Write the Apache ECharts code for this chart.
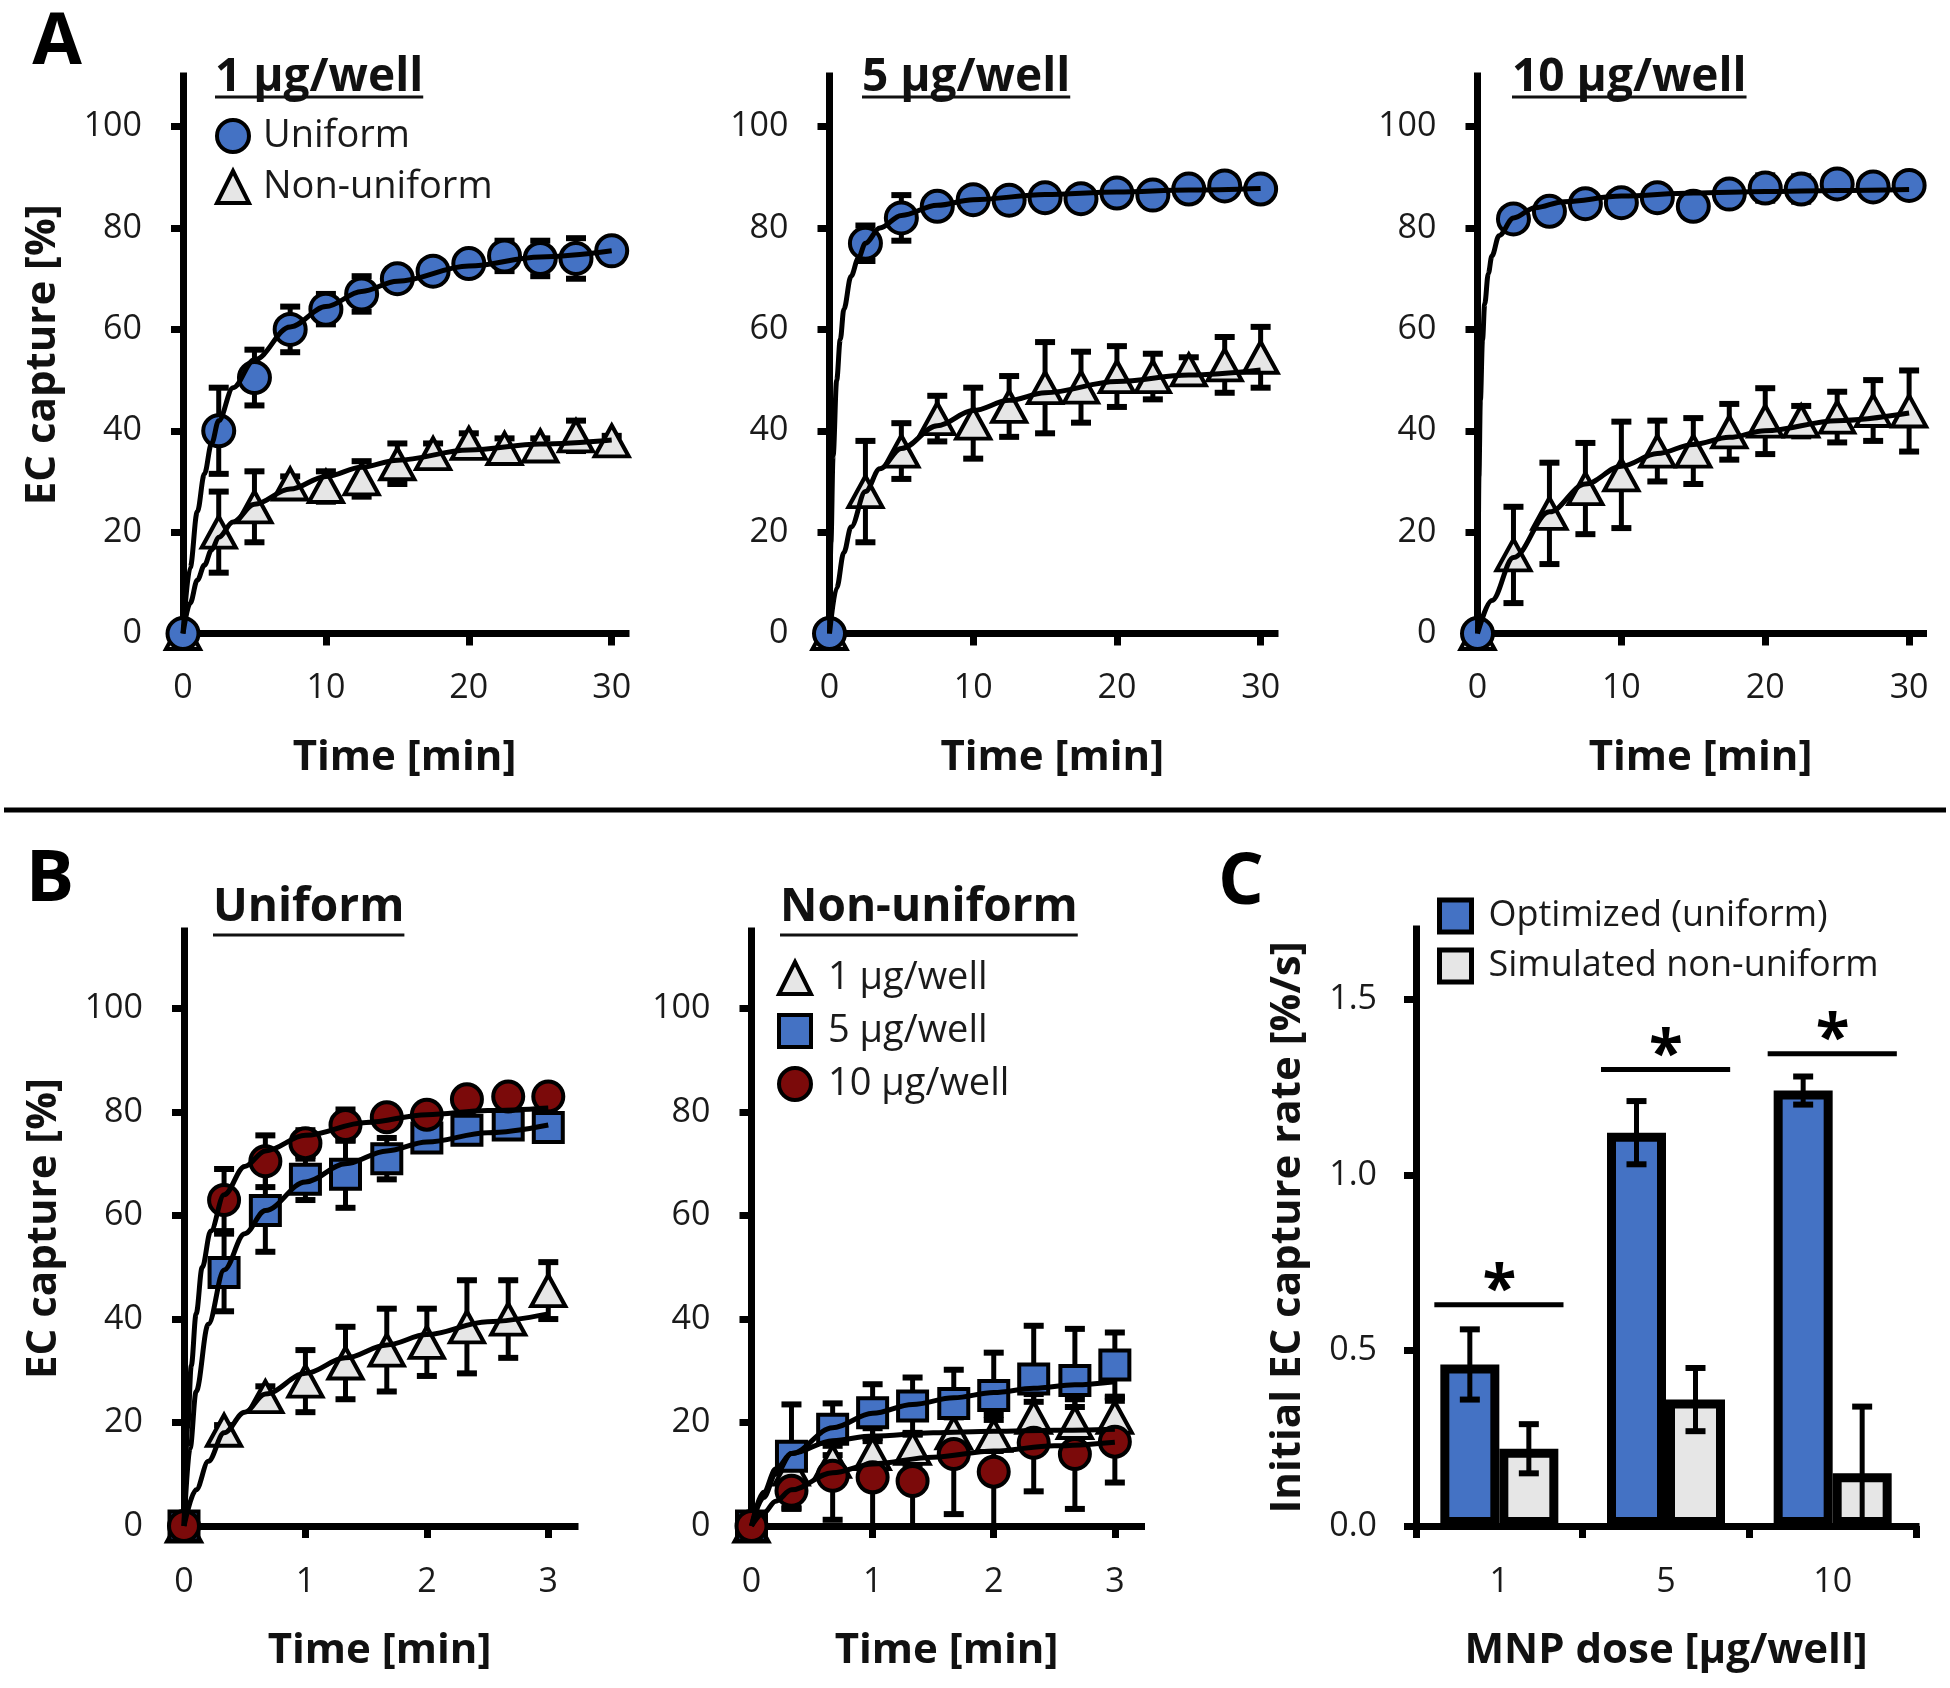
<!DOCTYPE html>
<html><head><meta charset="utf-8">
<script src="https://cdn.jsdelivr.net/npm/echarts@6/dist/echarts.min.js"></script>
<style>html,body{margin:0;padding:0;background:#fff}#chart{width:1950px;height:1688px}</style>
</head><body><div id="chart"></div>
<script>
// ================= DATA =================
// Panel A – time points [min]
const timeA = [0, 2.5, 5, 7.5, 10, 12.5, 15, 17.5, 20, 22.5, 25, 27.5, 30];
// A: 1 µg/well
const a1Uniform      = [0, 40, 50.5, 60, 64, 67, 70, 71.5, 73, 74.5, 74, 74, 75.5];
const a1UniformSD    = [0, 8.5, 5.5, 4.5, 3, 3.5, 1, 1, 1, 3, 3.5, 4, 1];
const a1NonUniform   = [0, 20, 25, 29.5, 29, 30.5, 33.5, 35.5, 37.5, 36.5, 37, 39, 38];
const a1NonUniformSD = [0, 8, 7, 1.5, 3, 3.5, 4, 2, 2, 2, 1.5, 3, 1];
// A: 5 µg/well
const a2Uniform      = [0, 77, 82, 84.3, 85.6, 85.5, 86, 85.8, 86.9, 86.5, 87.7, 88.3, 87.7];
const a2UniformSD    = [0, 3.5, 4.5, 1, 1, 1, 1.5, 1, 1, 1, 1, 1.5, 1];
const a2NonUniform   = [0, 28, 36, 42.4, 41.5, 44.8, 48.5, 48.6, 50.7, 50.7, 52, 53, 54.5];
const a2NonUniformSD = [0, 10, 5.5, 4.5, 7, 6, 9, 7, 6, 4.5, 2.5, 5.5, 6];
// A: 10 µg/well
const a3Uniform      = [0, 81.8, 83.3, 84.8, 85, 86, 84.3, 86.7, 87.9, 87.7, 88.7, 88.1, 88.4];
const a3UniformSD    = [0, 1, 1, 1, 1, 1, 1, 1, 2.5, 2.5, 1, 1, 1];
const a3NonUniform   = [0, 15.5, 23.7, 28.6, 31.3, 36, 36, 39.8, 41.9, 41.9, 42.7, 44, 43.9];
const a3NonUniformSD = [0, 9.5, 10, 9, 10.5, 6, 6.5, 5.5, 6.5, 3, 5, 6, 8];
// A: fitted curves
const a1UniformFitT    = [0, 0.5, 1, 1.5, 2, 2.5, 3.5, 5, 7.5, 10, 12.5, 15, 20, 25, 30];
const a1UniformFit     = [0, 13, 24, 31.5, 37.5, 42, 48.5, 54, 60.5, 64.5, 67.5, 69.5, 72.5, 74.3, 75.5];
const a1NonUniformFitT = [0, 0.5, 1, 1.5, 2, 2.5, 3.5, 5, 7.5, 10, 12.5, 15, 20, 25, 30];
const a1NonUniformFit  = [0, 6, 10.5, 13.5, 16.5, 19, 22, 25.5, 28.5, 31, 32.8, 34.2, 36.2, 37.4, 38.2];
const a2UniformFitT    = [0, 0.1, 0.25, 0.5, 0.75, 1, 1.5, 2, 2.5, 3.5, 5, 7.5, 10, 15, 20, 25, 30];
const a2UniformFit     = [0, 18, 35, 50, 58, 64, 70.5, 74, 77, 80, 82.5, 84.5, 85.6, 86.6, 87.1, 87.5, 87.8];
const a2NonUniformFitT = [0, 0.5, 1, 1.5, 2.5, 3.5, 5, 7.5, 10, 12.5, 15, 20, 25, 30];
const a2NonUniformFit  = [0, 9, 16, 21, 28, 32.5, 36.5, 41, 44, 46, 47.5, 49.7, 51, 52];
const a3UniformFitT    = [0, 0.05, 0.1, 0.2, 0.35, 0.5, 0.75, 1, 1.5, 2.5, 4, 6, 10, 15, 20, 25, 30];
const a3UniformFit     = [0, 19, 31, 46, 58, 65, 71, 74.5, 78.5, 82, 84, 85.2, 86.3, 86.9, 87.2, 87.4, 87.6];
const a3NonUniformFitT = [0, 1, 2.5, 5, 7.5, 10, 12.5, 15, 17.5, 20, 25, 30];
const a3NonUniformFit  = [0, 6.5, 15, 24, 29.5, 33, 35.5, 37.3, 38.7, 40, 42, 43.5];
const tickA_X = [0, 10, 20, 30];
const tickA_Y = [0, 20, 40, 60, 80, 100];

// Panel B – time points [min]
const timeB = [0, 0.33, 0.67, 1, 1.33, 1.67, 2, 2.33, 2.67, 3];
// B Uniform
const bU1   = [0, 18.5, 25, 28, 31.5, 34, 35.5, 38.5, 40, 45.5];
const bU1SD = [0, 1, 2, 6, 7, 8, 6.5, 9, 7.5, 5.5];
const bU5   = [0, 49, 61, 67, 68, 71, 75, 76.5, 77.5, 77];
const bU5SD = [0, 7.5, 8, 4, 6.5, 4, 2.5, 2, 2.5, 2];
const bU10  = [0, 63, 70.5, 74, 77.5, 79, 79.5, 82.5, 83, 83];
const bU10SD= [0, 6, 5, 2.5, 3, 2, 1, 1, 1, 1];
// B Non-uniform
const bN1   = [0, 11, 12.5, 14, 15, 18, 17.5, 21, 20, 21];
const bN1SD = [0, 3, 3, 3, 3, 3, 3, 3, 3, 4];
const bN5   = [0, 13.5, 18.7, 21.9, 23.2, 23.7, 25.2, 28.4, 28.1, 31.1];
const bN5SD = [0, 10, 5, 5.5, 5.5, 6.5, 8.3, 10.3, 10, 6.3];
const bN10  = [0, 6.8, 9.7, 9.4, 8.7, 13.9, 10.5, 16.1, 13.9, 16.3];
const bN10SD= [0, 3.5, 8.5, 9.5, 9, 11.6, 11, 9.4, 10.6, 7.9];
// B fitted curves
const bU1FitT  = [0, 0.1, 0.2, 0.33, 0.5, 0.67, 1, 1.33, 1.67, 2, 2.5, 3];
const bU1Fit   = [0, 7, 12.5, 18, 22, 25.5, 29.5, 32.5, 35, 37, 39.5, 41];
const bU5FitT  = [0, 0.05, 0.1, 0.2, 0.33, 0.5, 0.67, 1, 1.33, 1.67, 2, 2.5, 3];
const bU5Fit   = [0, 15, 26, 39, 49.5, 56.5, 61, 66.5, 70, 72.5, 74.2, 76, 77.5];
const bU10FitT = [0, 0.03, 0.06, 0.1, 0.15, 0.22, 0.33, 0.5, 0.67, 1, 1.5, 2, 2.5, 3];
const bU10Fit  = [0, 19, 31, 41, 50, 57, 64, 69.5, 72.5, 75.5, 78, 79.5, 80.3, 80.8];
const bN1FitT  = [0, 0.1, 0.2, 0.33, 0.67, 1, 1.5, 2, 2.5, 3];
const bN1Fit   = [0, 6.5, 11, 14, 16.5, 17.4, 18, 18.3, 18.5, 18.7];
const bN5FitT  = [0, 0.1, 0.2, 0.33, 0.67, 1, 1.33, 1.67, 2, 2.33, 2.67, 3];
const bN5Fit   = [0, 5.5, 10, 14, 19, 21.8, 23.5, 24.8, 25.8, 26.6, 27.3, 27.9];
const bN10FitT = [0, 0.1, 0.2, 0.33, 0.67, 1, 1.5, 2, 2.5, 3];
const bN10Fit  = [0, 2.5, 4.8, 7, 10.3, 12, 13.3, 14.5, 15.5, 16.2];
const tickB_X = [0, 1, 2, 3];
const tickB_Y = [0, 20, 40, 60, 80, 100];

// Panel C
const doses = ['1', '5', '10'];
const rateOptimized   = [0.46, 1.12, 1.24];
const rateOptimizedSD = [0.10, 0.09, 0.04];
const rateSimulated   = [0.22, 0.36, 0.15];
const rateSimulatedSD = [0.07, 0.09, 0.19];
const sigLevel = [0.63, 1.30, 1.345];
const tickC_Y = [0, 0.5, 1.0, 1.5];

// ================= STYLE =================
const FONT = "'Open Sans', 'DejaVu Sans', sans-serif";
const BLUE = '#4472C4', GREY = '#E6E6E6', RED = '#7B0A0A', INK = '#111';
const AXW = 7, TICKLEN = 12, LBL = 34, NAMEF = 42, TITLEF = 46, LEGF = 38;
const BAR_W = 59;

const zip = (xs, ys, es) => xs.map((x, i) => es ? [x, ys[i], es[i]] : [x, ys[i]]);

function errRender(offsetPx) {
  return function (params, api) {
    const x = api.value(0), y = api.value(1), e = api.value(2);
    if (!e) return null;
    const lo = Math.max(0, y - e);
    const t = api.coord([x, y + e]), b = api.coord([x, lo]);
    const cx = t[0] + (offsetPx || 0), cw = 10;
    const ch = [
      {type: 'line', shape: {x1: cx, y1: t[1], x2: cx, y2: b[1]}, style: {stroke: '#000', lineWidth: 5}},
      {type: 'line', shape: {x1: cx - cw, y1: t[1], x2: cx + cw, y2: t[1]}, style: {stroke: '#000', lineWidth: 6}}
    ];
    if (y - e >= 0) ch.push({type: 'line', shape: {x1: cx - cw, y1: b[1], x2: cx + cw, y2: b[1]}, style: {stroke: '#000', lineWidth: 6}});
    return {type: 'group', children: ch};
  };
}
function errSeries(name, gi, xs, ys, es) {
  return {type: 'custom', name, xAxisIndex: gi, yAxisIndex: gi, z: 1, clip: false, silent: true,
    data: zip(xs, ys, es), renderItem: errRender(0)};
}
function scat(name, gi, xs, ys, symbol, size, color) {
  return {type: 'scatter', name, xAxisIndex: gi, yAxisIndex: gi, z: 3, symbol, symbolSize: size, clip: false,
    itemStyle: {color, borderColor: '#000', borderWidth: 4, opacity: 1}, emphasis: {disabled: true},
    data: zip(xs, ys)};
}
function fit(name, gi, xs, ys) {
  return {type: 'line', name, xAxisIndex: gi, yAxisIndex: gi, z: 4, smooth: 0.35, smoothMonotone: 'x',
    showSymbol: false, symbol: 'none', clip: false, silent: true,
    lineStyle: {color: '#000', width: 5}, data: zip(xs, ys)};
}
const axisLineStyle = {show: true, onZero: false, lineStyle: {color: '#000', width: AXW, cap: 'square'}};
function xVal(gi, max, ticks, name) {
  return {gridIndex: gi, type: 'value', min: 0, max, splitLine: {show: false},
    axisLine: axisLineStyle,
    axisTick: {show: true, customValues: ticks, length: TICKLEN, lineStyle: {color: '#000', width: AXW}},
    axisLabel: {customValues: ticks, margin: gi >= 3 ? 39 : 38, fontSize: LBL, fontFamily: FONT, color: '#1a1a1a'},
    name, nameLocation: 'middle', nameGap: 104,
    nameTextStyle: {fontSize: NAMEF, fontWeight: 'bold', fontFamily: FONT, color: INK}};
}
function yVal(gi, max, ticks, name, gap, fmt) {
  return {gridIndex: gi, type: 'value', min: 0, max, splitLine: {show: false},
    axisLine: axisLineStyle,
    axisTick: {show: true, customValues: ticks, length: TICKLEN, lineStyle: {color: '#000', width: AXW}},
    axisLabel: {customValues: ticks, margin: gi === 5 ? 39 : 41, fontSize: LBL, fontFamily: FONT, color: '#1a1a1a',
      formatter: fmt || (v => String(v))},
    name: name || '', nameLocation: 'middle', nameGap: gap || 119,
    nameTextStyle: {fontSize: NAMEF, fontWeight: 'bold', fontFamily: FONT, color: INK}};
}

const TRI = [34, 31];
const series = [];
const panelsA = [
  [timeA, a1Uniform, a1UniformSD, a1NonUniform, a1NonUniformSD, a1UniformFitT, a1UniformFit, a1NonUniformFitT, a1NonUniformFit],
  [timeA, a2Uniform, a2UniformSD, a2NonUniform, a2NonUniformSD, a2UniformFitT, a2UniformFit, a2NonUniformFitT, a2NonUniformFit],
  [timeA, a3Uniform, a3UniformSD, a3NonUniform, a3NonUniformSD, a3UniformFitT, a3UniformFit, a3NonUniformFitT, a3NonUniformFit]
];
panelsA.forEach((p, gi) => {
  const [t, u, uSD, n, nSD, uFT, uF, nFT, nF] = p;
  series.push(errSeries('Uniform SD', gi, t, u, uSD));
  series.push(errSeries('Non-uniform SD', gi, t, n, nSD));
  series.push(scat('Non-uniform', gi, t, n, 'triangle', TRI, GREY));
  series.push(scat('Uniform', gi, t, u, 'circle', 31, BLUE));
  series.push(fit('Uniform fit', gi, uFT, uF));
  series.push(fit('Non-uniform fit', gi, nFT, nF));
});
const panelsB = [
  [[bU1, bU1SD, bU1FitT, bU1Fit], [bU5, bU5SD, bU5FitT, bU5Fit], [bU10, bU10SD, bU10FitT, bU10Fit]],
  [[bN1, bN1SD, bN1FitT, bN1Fit], [bN5, bN5SD, bN5FitT, bN5Fit], [bN10, bN10SD, bN10FitT, bN10Fit]]
];
const bNames = ['1 µg/well', '5 µg/well', '10 µg/well'];
const bSym = [['triangle', TRI, GREY], ['rect', 29, BLUE], ['circle', 30, RED]];
panelsB.forEach((p, k) => {
  const gi = 3 + k;
  p.forEach((s, j) => series.push(errSeries(bNames[j] + ' SD', gi, timeB, s[0], s[1])));
  p.forEach((s, j) => series.push(scat(bNames[j], gi, timeB, s[0], bSym[j][0], bSym[j][1], bSym[j][2])));
  p.forEach((s, j) => series.push(fit(bNames[j] + ' fit', gi, s[2], s[3])));
});
// Panel C
series.push({type: 'bar', name: 'Optimized (uniform)', xAxisIndex: 5, yAxisIndex: 5, barWidth: BAR_W, barGap: '0%', z: 2,
  itemStyle: {color: BLUE, borderColor: '#000', borderWidth: 9}, emphasis: {disabled: true}, data: rateOptimized});
series.push({type: 'bar', name: 'Simulated non-uniform', xAxisIndex: 5, yAxisIndex: 5, barWidth: BAR_W, barGap: '0%', z: 2,
  itemStyle: {color: GREY, borderColor: '#000', borderWidth: 9}, emphasis: {disabled: true}, data: rateSimulated});
series.push({type: 'custom', name: 'Optimized SD', xAxisIndex: 5, yAxisIndex: 5, z: 5, clip: false, silent: true,
  data: doses.map((d, i) => [i, rateOptimized[i], rateOptimizedSD[i]]), renderItem: errRender(-BAR_W / 2)});
series.push({type: 'custom', name: 'Simulated SD', xAxisIndex: 5, yAxisIndex: 5, z: 5, clip: false, silent: true,
  data: doses.map((d, i) => [i, rateSimulated[i], rateSimulatedSD[i]]), renderItem: errRender(BAR_W / 2)});
series.push({type: 'custom', name: 'significance', xAxisIndex: 5, yAxisIndex: 5, z: 5, clip: false, silent: true,
  data: doses.map((d, i) => [i, sigLevel[i]]),
  renderItem(params, api) {
    const c = api.coord([api.value(0), api.value(1)]);
    const bw = api.size([1, 0])[0];
    return {type: 'group', children: [
      {type: 'line', shape: {x1: c[0] - 0.39 * bw, y1: c[1], x2: c[0] + 0.385 * bw, y2: c[1]}, style: {stroke: '#000', lineWidth: 5}},
      {type: 'text', x: c[0], y: c[1] - 12, style: {text: '*', fontSize: 62, fontWeight: 'bold', fontFamily: FONT, fill: '#000', align: 'center', verticalAlign: 'middle'}}
    ]};
  }});

// ================= TEXT / DECOR =================
const mctx = document.createElement('canvas').getContext('2d');
function textW(t, size, weight) { mctx.font = `${weight} ${size}px 'Open Sans'`; return mctx.measureText(t).width; }
const titleSpecs = [['1 µg/well', 215, 78, 97], ['5 µg/well', 862, 78, 97], ['10 µg/well', 1512, 78, 97],
                    ['Uniform', 213, 908, 935], ['Non-uniform', 780, 908, 935]];
const graphic = [];
titleSpecs.forEach(([t, x, y, uy]) => {
  graphic.push({type: 'text', x, y, style: {text: t, fontSize: TITLEF, fontWeight: 'bold', fontFamily: FONT, fill: INK, align: 'left', verticalAlign: 'middle'}});
  graphic.push({type: 'line', shape: {x1: x, y1: uy, x2: x + textW(t, TITLEF, 'bold'), y2: uy}, style: {stroke: INK, lineWidth: 3}});
});
[['A', 57, 43], ['B', 50, 880], ['C', 1241, 883]].forEach(([t, x, y]) =>
  graphic.push({type: 'text', x, y, style: {text: t, fontSize: 72, fontWeight: 'bold', fontFamily: FONT, fill: '#000', align: 'center', verticalAlign: 'middle'}}));
graphic.push({type: 'line', shape: {x1: 4, y1: 810, x2: 1946, y2: 810}, style: {stroke: '#000', lineWidth: 5}});

const legBase = {orient: 'vertical', selectedMode: false, itemWidth: 32, itemHeight: 32,
  textStyle: {fontSize: LEGF, fontFamily: FONT, color: '#1a1a1a', lineHeight: 40, padding: [0, 0, 0, 9]},
  itemStyle: {borderColor: '#000', borderWidth: 4}};

const option = {
  backgroundColor: '#fff',
  animation: false,
  grid: [
    {left: 183, top: 76, width: 443, height: 557.5},
    {left: 829.5, top: 76, width: 445.5, height: 557.5},
    {left: 1477.5, top: 76, width: 446, height: 557.5},
    {left: 184, top: 931, width: 391, height: 595},
    {left: 751.5, top: 931, width: 390, height: 595},
    {left: 1416, top: 929, width: 500, height: 597}
  ],
  xAxis: [
    xVal(0, 31, tickA_X, 'Time [min]'), xVal(1, 31, tickA_X, 'Time [min]'), xVal(2, 31, tickA_X, 'Time [min]'),
    xVal(3, 3.22, tickB_X, 'Time [min]'), xVal(4, 3.22, tickB_X, 'Time [min]'),
    {gridIndex: 5, type: 'category', data: doses, boundaryGap: true, splitLine: {show: false},
     axisLine: axisLineStyle,
     axisTick: {show: true, length: TICKLEN, lineStyle: {color: '#000', width: AXW}},
     axisLabel: {margin: 39, fontSize: LBL, fontFamily: FONT, color: '#1a1a1a'},
     name: 'MNP dose [µg/well]', nameLocation: 'middle', nameGap: 104,
     nameTextStyle: {fontSize: NAMEF, fontWeight: 'bold', fontFamily: FONT, color: INK}}
  ],
  yAxis: [
    yVal(0, 110, tickA_Y, 'EC capture [%]', 119), yVal(1, 110, tickA_Y), yVal(2, 110, tickA_Y),
    yVal(3, 115, tickB_Y, 'EC capture [%]', 119), yVal(4, 115, tickB_Y),
    yVal(5, 1.7, tickC_Y, 'Initial EC capture rate [%/s]', 107, v => v.toFixed(1))
  ],
  legend: [
    Object.assign({}, legBase, {left: 210, top: 111, itemGap: 11,
      data: [{name: 'Uniform', icon: 'circle'}, {name: 'Non-uniform', icon: 'triangle'}]}),
    Object.assign({}, legBase, {left: 772, top: 953, itemGap: 13,
      textStyle: Object.assign({}, legBase.textStyle, {padding: [0, 0, 0, 12]}),
      data: [{name: '1 µg/well', icon: 'triangle'}, {name: '5 µg/well', icon: 'rect'}, {name: '10 µg/well', icon: 'circle'}]}),
    Object.assign({}, legBase, {left: 1432, top: 891, itemGap: 10,
      textStyle: Object.assign({}, legBase.textStyle, {fontSize: 36, padding: [0, 0, 0, 12]}),
      itemStyle: {borderColor: '#000', borderWidth: 5},
      data: [{name: 'Optimized (uniform)', icon: 'rect'}, {name: 'Simulated non-uniform', icon: 'rect'}]})
  ],
  graphic,
  series
};
const chart = echarts.init(document.getElementById('chart'), null, {renderer: 'canvas'});
chart.setOption(option);
</script></body></html>
